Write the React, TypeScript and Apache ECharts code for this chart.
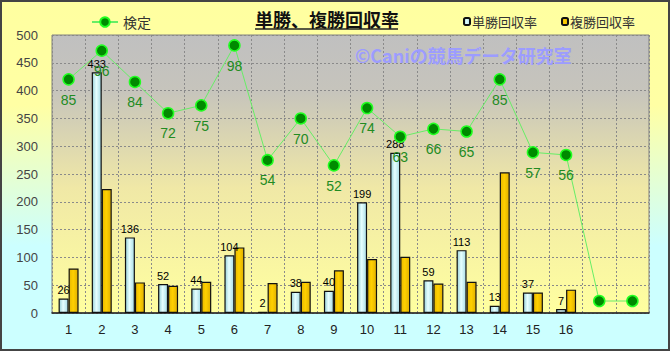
import React, { useEffect, useRef } from "react";
import * as echarts from "echarts";

const categories = ["1", "2", "3", "4", "5", "6", "7", "8", "9", "10", "11", "12", "13", "14", "15", "16", "", ""];
const tanshoValues = [26, 433, 136, 52, 44, 104, 2, 38, 40, 199, 288, 59, 113, 13, 37, 7, null, null];
const fukushoValues = [80, 223, 55, 49, 56, 118, 54, 56, 77, 97, 101, 53, 56, 253, 37, 42, null, null];
const kenteiValues = [85, 96, 84, 72, 75, 98, 54, 70, 52, 74, 63, 66, 65, 85, 57, 56, 0, 0];
const yTicks = { min: 0, max: 500, interval: 50 };

const FONT = "'Liberation Sans', 'Noto Sans CJK JP', sans-serif";
const CJK = "'Noto Sans CJK JP', 'Liberation Sans', sans-serif";

export default function App() {
  const ref = useRef<HTMLDivElement>(null);
  useEffect(() => {
    if (!ref.current) return;
    const chart = echarts.init(ref.current, null, { renderer: "svg" });
    const blueFill = new echarts.graphic.LinearGradient(0, 0, 1, 0, [
      { offset: 0, color: "#98d0d8" },
      { offset: 0.45, color: "#e6ffff" },
      { offset: 1, color: "#a8dce6" },
    ]);
    const goldFill = new echarts.graphic.LinearGradient(0, 0, 1, 0, [
      { offset: 0, color: "#e8b800" },
      { offset: 0.45, color: "#ffd000" },
      { offset: 1, color: "#e0b000" },
    ]);
    chart.setOption({
      animation: false,
      backgroundColor: new echarts.graphic.LinearGradient(0, 0, 0, 1, [
        { offset: 0, color: "#ffffa0" },
        { offset: 0.3, color: "#ffffa4" },
        { offset: 0.7, color: "#ccffff" },
        { offset: 1, color: "#ccffff" },
      ]),
      title: {
        text: "単勝、複勝回収率",
        left: 250,
        top: 5,
        textStyle: { fontFamily: CJK, fontSize: 18, fontWeight: "bold", color: "#111" },
      },
      legend: [
        {
          data: ["検定"],
          left: 86,
          top: 10,
          itemWidth: 26,
          itemHeight: 12,
          itemGap: 4,
          textStyle: { fontFamily: CJK, fontSize: 14, color: "#333" },
        },
        {
          data: ["単勝回収率", "複勝回収率"],
          left: 458,
          top: 10,
          itemWidth: 6,
          itemHeight: 7,
          itemGap: 24,
          textStyle: { fontFamily: CJK, fontSize: 13, color: "#333", padding: [0, 0, 0, -3] },
        },
      ],
      grid: {
        left: 52,
        right: 21,
        top: 35,
        bottom: 38,
        show: true,
        borderColor: "#808080",
        borderWidth: 1,
        backgroundColor: new echarts.graphic.LinearGradient(0, 0, 0, 1, [
          { offset: 0, color: "#c0c0c0" },
          { offset: 0.2, color: "#c6c4bc" },
          { offset: 0.55, color: "#f0e8a6" },
          { offset: 1, color: "#ffffa0" },
        ]),
      },
      xAxis: {
        type: "category",
        data: categories,
        axisLine: { show: true, lineStyle: { color: "#222", width: 1.5 } },
        axisTick: { show: false },
        axisLabel: { color: "#222", fontFamily: FONT, fontSize: 13, margin: 10 },
        splitLine: { show: true, lineStyle: { color: "#8a8a8a", type: [2, 2], width: 1 } },
      },
      yAxis: [
        {
          type: "value",
          min: yTicks.min,
          max: yTicks.max,
          interval: yTicks.interval,
          axisLine: { show: false },
          axisTick: { show: false },
          axisLabel: { color: "#444", fontFamily: FONT, fontSize: 13, margin: 14 },
          splitLine: { show: true, lineStyle: { color: "#8a8a8a", type: [2, 2], width: 1 } },
        },
        {
          type: "value",
          min: -4.6,
          max: 102,
          show: false,
          splitLine: { show: false },
        },
      ],
      graphic: [
        {
          type: "text",
          left: 355,
          top: 46,
          z: 1,
          style: {
            text: "©Caniの競馬データ研究室",
            fill: "#9c9cff",
            font: "bold 18px 'Noto Sans CJK JP', 'Liberation Sans', sans-serif",
          },
        },
        {
          type: "line",
          shape: { x1: 255, y1: 29, x2: 398, y2: 29 },
          style: { stroke: "#222", lineWidth: 1.5 },
        },
        {
          type: "rect",
          shape: { x: 1, y: 1, width: 668, height: 349 },
          style: { fill: "none", stroke: "#444", lineWidth: 2 },
          silent: true,
        },
      ],
      series: [
        {
          name: "単勝回収率",
          type: "bar",
          data: tanshoValues,
          barWidth: 10,
          barGap: "0%",
          z: 3,
          itemStyle: { color: blueFill, borderColor: "#111", borderWidth: 1.2 },
          label: {
            show: true,
            position: "top",
            distance: 3,
            color: "#000",
            fontFamily: FONT,
            fontSize: 11,
          },
        },
        {
          name: "複勝回収率",
          type: "bar",
          data: fukushoValues,
          barWidth: 10,
          z: 3,
          itemStyle: { color: goldFill, borderColor: "#111", borderWidth: 1.2 },
        },
        {
          name: "検定",
          type: "line",
          yAxisIndex: 1,
          z: 5,
          data: kenteiValues.map((v, i) => ({
            value: v,
            label: { show: i < 16 },
          })),
          symbol: "circle",
          symbolSize: 11,
          lineStyle: { color: "#66ee66", width: 1 },
          itemStyle: { color: "#008a00", borderColor: "#22ff22", borderWidth: 1.5 },
          label: {
            show: true,
            position: "bottom",
            distance: 7,
            color: "#228b22",
            fontFamily: FONT,
            fontSize: 14,
          },
        },
      ],
    });
    return () => chart.dispose();
  }, []);
  return (
    <div style={{ position: "fixed", left: 0, top: 0, width: 670, height: 351 }}>
      <div ref={ref} style={{ width: 670, height: 351 }} />
    </div>
  );
}
